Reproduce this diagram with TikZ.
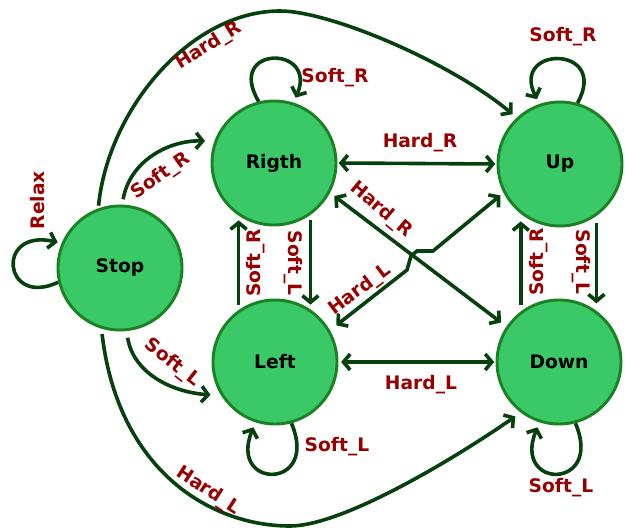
\documentclass[tikz,border=0pt]{standalone}
\usepackage{fontspec}
\setmainfont{DejaVu Sans}
\usetikzlibrary{arrows.meta}
\definecolor{statefill}{RGB}{58,201,102}
\definecolor{stateline}{RGB}{26,130,36}
\definecolor{edgecol}{RGB}{6,64,12}
\definecolor{lblcol}{RGB}{150,0,0}
\begin{document}
\begin{tikzpicture}[x=0.75pt,y=-0.75pt,
  state/.style={circle, draw=stateline, fill=statefill, line width=2.2pt,
    minimum size=93pt, inner sep=0pt, font=\fontsize{14}{16}\selectfont\bfseries},
  link/.style={draw=edgecol, line width=2.7pt},
  lbl/.style={text=lblcol, font=\fontsize{14}{16}\selectfont\bfseries, inner sep=0pt},
  >={Straight Barb[length=5pt,width=12pt]}]
\useasboundingbox (0,0) rectangle (625,528);

% states
\node[state] (stop)  at (120,268) {Stop};
\node[state] (rigth) at (274,163) {Rigth};
\node[state] (up)    at (560,164) {Up};
\node[state] (left)  at (275,362) {Left};
\node[state] (down)  at (559,362) {Down};

% self loops
\draw[link,->,shorten >=3pt] (stop.193) .. controls (3,308) and (-5,228) .. (stop.157);
\draw[link,->,shorten >=4pt] (rigth.104) .. controls (225,45) and (318,45) .. (rigth.72);
\draw[link,->,shorten >=4pt] (up.74) .. controls (610,45) and (510,45) .. (up.109);
\draw[link,->,shorten >=4pt] (left.285) .. controls (320,490) and (228,490) .. (left.252);
\draw[link,->,shorten >=4pt] (down.285) .. controls (604,490) and (512,490) .. (down.252);

% transitions out of Stop
\draw[link,->,shorten <=4pt,shorten >=7pt] (stop.88) .. controls (130,160) and (170,140) .. (rigth.160);
\draw[link,->,shorten <=5pt,shorten >=8pt] (stop.276) .. controls (133,372) and (170,392) .. (left.212);
\draw[link,->,shorten <=2pt,shorten >=4pt] (stop.110) .. controls (108,110) and (190,11) .. (280,11)
  .. controls (330,11) and (450,62) .. (up.133);
\draw[link,->,shorten <=4pt,shorten >=5pt] (stop.253) .. controls (118,470) and (210,526) .. (290,526)
  .. controls (340,526) and (445,465) .. (down.233);

% horizontal pairs
\draw[link,<->,shorten <=1pt,shorten >=1pt] (rigth.east) -- (up.west);
\draw[link,<->,shorten <=2pt,shorten >=1pt] (left.east) -- (down.west);

% vertical pairs
\draw[link,->,shorten <=4pt,shorten >=4pt] (rigth.305) -- (rigth.305 |- left.55);
\draw[link,->,shorten <=4pt,shorten >=4pt] (left.125) -- (left.125 |- rigth.235);
\draw[link,->,shorten <=5pt,shorten >=5pt] (up.305) -- (up.305 |- down.55);
\draw[link,->,shorten <=5pt,shorten >=5pt] (down.127) -- (down.127 |- up.233);

% diagonals, the Left--Up one hopping over the Rigth--Down one
\draw[link,<->,shorten <=4pt,shorten >=5pt] (rigth.-28) -- (down.146);
\coordinate (hopA) at (407,270);
\coordinate (hopB) at (411,256);
\coordinate (hopC) at (417,251);
\coordinate (hopD) at (433,251);
\draw[link,<->,shorten <=6pt,shorten >=3pt] (left.30) -- (hopA) -- (hopB) -- (hopC) -- (hopD) -- (up.207);

% transition labels
\node[lbl,rotate=90]  (lrelax) at (38,200)  {Relax};
\node[lbl,rotate=32]  (lhr1)   at (209,46)  {Hard\_R};
\node[lbl,rotate=35]  (lsr1)   at (161,176) {Soft\_R};
\node[lbl,rotate=-38] (lsl1)   at (172,363) {Soft\_L};
\node[lbl,rotate=-33] (lhl1)   at (208,491) {Hard\_L};
\node[lbl]            (lsr2)   at (335,78)  {Soft\_R};
\node[lbl]            (lsr3)   at (563,37)  {Soft\_R};
\node[lbl]            (lhr2)   at (420,143) {Hard\_R};
\node[lbl,rotate=-40] (lhr3)   at (381,210) {Hard\_R};
\node[lbl,rotate=37]  (lhl2)   at (360,290) {Hard\_L};
\node[lbl,rotate=90]  (lsr4)   at (256,263) {Soft\_R};
\node[lbl,rotate=-90] (lsl2)   at (293,263) {Soft\_L};
\node[lbl,rotate=90]  (lsr5)   at (539,262) {Soft\_R};
\node[lbl,rotate=-90] (lsl3)   at (581,262) {Soft\_L};
\node[lbl]            (lhl3)   at (421,385) {Hard\_L};
\node[lbl]            (lsl4)   at (337,447) {Soft\_L};
\node[lbl]            (lsl5)   at (561,488) {Soft\_L};
\end{tikzpicture}
\end{document}
